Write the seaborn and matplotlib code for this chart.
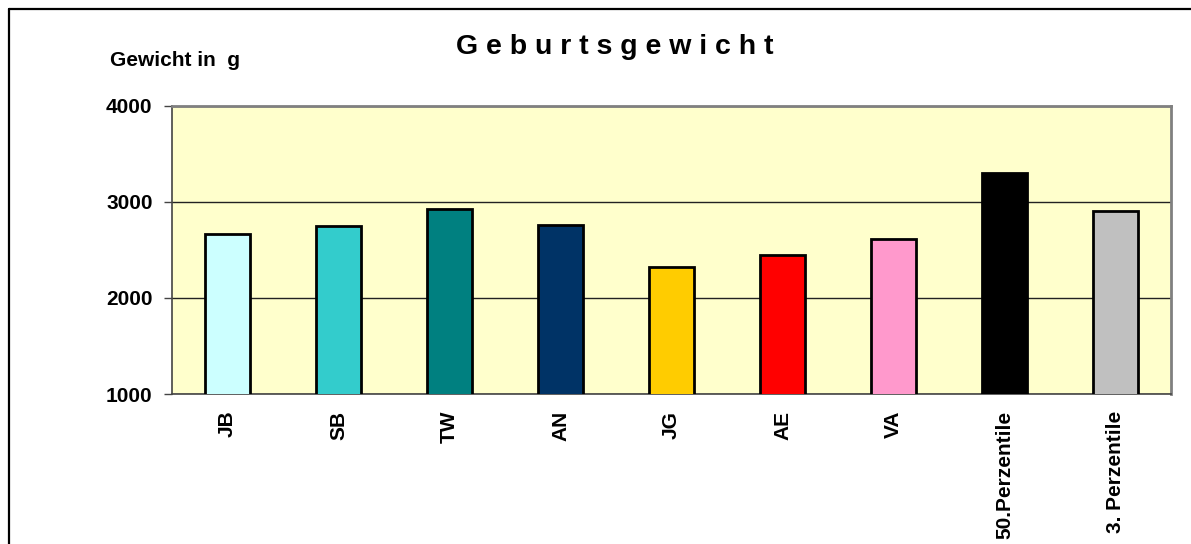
import numpy as np
import pandas as pd
import seaborn as sns
import matplotlib.pyplot as plt
from matplotlib.lines import Line2D

# data
categories = ['JB', 'SB', 'TW', 'AN', 'JG', 'AE', 'VA', '50.Perzentile', '3. Perzentile']
weights = [2660, 2750, 2930, 2760, 2320, 2450, 2610, 3300, 2900]
bar_colors = ['#CCFFFF', '#33CCCC', '#008080', '#003366', '#FFCC00',
              '#FF0000', '#FF99CC', '#000000', '#C0C0C0']
y_ticks = [1000, 2000, 3000, 4000]

df = pd.DataFrame({'Kategorie': categories, 'Gewicht': weights})

sns.set_style('white')
plt.rcParams['font.family'] = ['Liberation Sans', 'DejaVu Sans']
plt.rcParams['font.weight'] = 'bold'
plt.rcParams['text.color'] = 'black'
plt.rcParams['xtick.color'] = 'black'
plt.rcParams['ytick.color'] = 'black'

fig = plt.figure(figsize=(11.91, 5.44), dpi=100)
ax = fig.add_axes([0.1444, 0.2757, 0.8388, 0.530])
ax.set_facecolor('#FFFFCC')

sns.barplot(data=df, x='Kategorie', y='Gewicht', hue='Kategorie',
            palette=bar_colors, saturation=1, legend=False, width=0.4,
            edgecolor='black', linewidth=2.0, ax=ax, zorder=3)

ax.set_ylim(1000, 4000)
ax.set_xlim(-0.5, len(categories) - 0.5)
ax.set_yticks(y_ticks)
ax.set_yticklabels([str(t) for t in y_ticks], fontsize=15, fontweight='bold')
ax.yaxis.grid(True, color='#222222', linewidth=1.0, zorder=0)
ax.set_axisbelow(True)

# x ticks: labels at bar centres, tick marks at category boundaries
ax.set_xticks(range(len(categories)))
ax.set_xticklabels(categories, rotation=90, fontsize=15, fontweight='bold', va='top')
ax.set_xticks(np.arange(-0.5, len(categories), 1.0), minor=True)
ax.tick_params(axis='x', which='major', length=0, pad=12)
ax.tick_params(axis='x', which='minor', length=6, width=1, color='#444444', direction='out')
ax.tick_params(axis='y', length=6, width=1, color='#444444', direction='out', pad=8, left=True)
ax.set_xlabel('')
ax.set_ylabel('')

for side in ['top', 'right']:
    ax.spines[side].set_color('#808080')
    ax.spines[side].set_linewidth(2)
for side in ['left', 'bottom']:
    ax.spines[side].set_color('#444444')
    ax.spines[side].set_linewidth(1.2)

fig.text(615 / 1191, 1 - 47 / 544, 'G e b u r t s g e w i c h t',
         ha='center', va='center', fontsize=20.5, fontweight='bold')
fig.text(110 / 1191, 1 - 60 / 544, 'Gewicht in  g',
         ha='left', va='center', fontsize=15, fontweight='bold')

# outer chart frame (only top and left visible)
fig.add_artist(Line2D([9 / 1191, 1.0], [1 - 9 / 544, 1 - 9 / 544],
                      transform=fig.transFigure, color='black', linewidth=1.6))
fig.add_artist(Line2D([9 / 1191, 9 / 1191], [0.0, 1 - 9 / 544],
                      transform=fig.transFigure, color='black', linewidth=1.6))

plt.savefig('out.png', dpi=100, facecolor='white')
